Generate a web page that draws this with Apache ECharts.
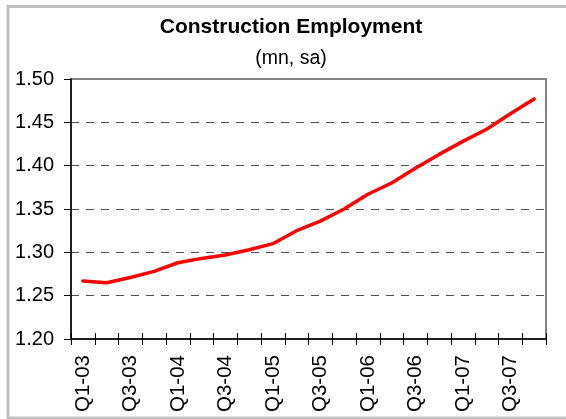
<!DOCTYPE html>
<html>
<head>
<meta charset="utf-8">
<title>Construction Employment</title>
<script src="https://cdn.jsdelivr.net/npm/echarts@6/dist/echarts.min.js"></script>
<style>
  html, body { margin: 0; padding: 0; background: #ffffff; }
  #chart { width: 566px; height: 419px; }
</style>
</head>
<body>
<div id="chart"></div>
<script>
// Quarterly construction employment, millions, seasonally adjusted
const quarters = [
  'Q1-03', 'Q2-03', 'Q3-03', 'Q4-03',
  'Q1-04', 'Q2-04', 'Q3-04', 'Q4-04',
  'Q1-05', 'Q2-05', 'Q3-05', 'Q4-05',
  'Q1-06', 'Q2-06', 'Q3-06', 'Q4-06',
  'Q1-07', 'Q2-07', 'Q3-07', 'Q4-07'
];
const employment = [
  1.267, 1.265, 1.271, 1.278,
  1.288, 1.293, 1.297, 1.303,
  1.310, 1.325, 1.336, 1.350,
  1.367, 1.380, 1.397, 1.413,
  1.428, 1.442, 1.460, 1.477
];
const yMin = 1.20;
const yMax = 1.50;
const yStep = 0.05;

const FONT = 'Arial, "Liberation Sans", sans-serif';

const chart = echarts.init(document.getElementById('chart'), null, { renderer: 'canvas' });

chart.setOption({
  backgroundColor: '#ffffff',
  animation: false,
  title: {
    text: 'Construction Employment',
    subtext: '(mn, sa)',
    left: 291,
    top: 17,
    textAlign: 'center',
    padding: 0,
    itemGap: 11,
    textStyle: { fontFamily: FONT, fontSize: 21, fontWeight: 'bold', color: '#000000', lineHeight: 21 },
    subtextStyle: { fontFamily: FONT, fontSize: 19.5, color: '#000000', lineHeight: 19 }
  },
  graphic: [{
    type: 'rect',
    silent: true,
    z: -1,
    shape: { x: 8, y: 6.5, width: 620, height: 411.5 },
    style: { fill: 'none', stroke: '#c0c0c0', lineWidth: 3 }
  }],
  grid: {
    left: 71,
    right: 20,
    top: 79,
    bottom: 80,
    show: true,
    borderColor: '#808080',
    borderWidth: 2,
    backgroundColor: '#ffffff'
  },
  xAxis: [{
    type: 'category',
    data: quarters,
    boundaryGap: true,
    axisLine: { lineStyle: { color: '#000000', width: 1.5 } },
    axisTick: { show: true, interval: 0, length: 6, inside: false, lineStyle: { color: '#000000', width: 1 } },
    axisLabel: {
      interval: 1,
      rotate: 90,
      margin: 16,
      fontFamily: FONT,
      fontSize: 20.5,
      color: '#000000'
    },
    splitLine: { show: false }
  }, {
    // inner half of the crossing tick marks
    type: 'category',
    data: quarters,
    position: 'bottom',
    boundaryGap: true,
    axisLine: { show: false },
    axisTick: { show: true, interval: 0, length: 6, inside: true, lineStyle: { color: '#000000', width: 1 } },
    axisLabel: { show: false },
    splitLine: { show: false }
  }],
  yAxis: {
    type: 'value',
    min: yMin,
    max: yMax,
    interval: yStep,
    axisLine: { show: true, lineStyle: { color: '#000000', width: 1.5 } },
    axisTick: { show: true, length: 7, lineStyle: { color: '#000000', width: 1 } },
    axisLabel: {
      margin: 17,
      fontFamily: FONT,
      fontSize: 20,
      color: '#000000',
      formatter: v => v.toFixed(2)
    },
    splitLine: {
      show: true,
      showMinLine: false,
      showMaxLine: false,
      lineStyle: { color: '#505050', width: 1, type: [8, 7] }
    }
  },
  series: [{
    type: 'line',
    data: employment,
    symbol: 'none',
    smooth: false,
    lineStyle: { color: '#ff0000', width: 3.5, cap: 'round', join: 'round' },
    z: 5
  }]
});
</script>
</body>
</html>
